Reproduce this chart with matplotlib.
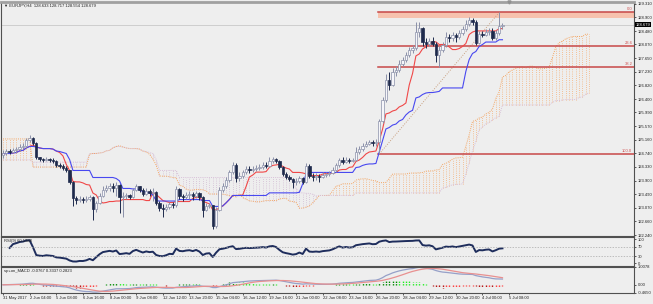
import numpy as np
import pandas as pd
import matplotlib
matplotlib.use('Agg')
import matplotlib.pyplot as plt
from matplotlib.transforms import blended_transform_factory

plt.rcParams['font.family'] = ['Liberation Sans', 'DejaVu Sans']

# ---- data (EURJPY H4) ----
title_text = "EURJPY,H4  128.633 128.717 128.554 128.679"
rsi_text = "RSI(9) 60.1988"
macd_text = "sp+on_MACD -0.0767 0.3337 0.2823"

first_open = 124.69
close = [124.75, 124.81, 124.78, 124.84, 124.87, 124.93, 124.96, 125.15, 125.21, 125.06,
         124.63, 124.57, 124.54, 124.57, 124.54, 124.51, 124.38, 124.35, 124.29, 124.23,
         123.86, 123.37, 123.31, 123.34, 123.31, 123.34, 123.40, 123.04, 123.22, 123.43,
         123.62, 123.68, 123.74, 123.68, 123.77, 123.40, 123.43, 123.47, 123.40, 123.62,
         123.74, 123.62, 123.50, 123.59, 123.53, 123.56, 123.22, 123.07, 123.04, 123.10,
         123.19, 123.16, 123.65, 123.43, 123.40, 123.47, 123.50, 123.43, 123.53, 123.40,
         123.01, 123.13, 123.16, 122.52, 123.01, 123.62, 123.74, 123.92, 124.17, 124.38,
         123.99, 124.05, 124.17, 124.26, 124.23, 124.26, 124.29, 124.32, 124.38, 124.35,
         124.51, 124.57, 124.51, 124.32, 124.11, 124.02, 123.95, 123.86, 123.89, 123.99,
         123.86, 124.35, 124.05, 124.02, 124.05, 124.02, 124.08, 124.11, 124.14, 124.23,
         124.38, 124.54, 124.47, 124.54, 124.51, 124.54, 124.78, 124.87, 124.96, 125.03,
         125.09, 125.06, 125.09, 125.73, 126.37, 126.98, 126.83, 127.23, 127.29, 127.47,
         127.60, 127.75, 127.90, 127.96, 128.45, 128.58, 128.15, 128.09, 128.18, 128.09,
         127.75, 127.90, 128.06, 128.30, 128.27, 128.36, 128.30, 128.42, 128.54, 128.70,
         128.82, 128.76, 128.12, 128.39, 128.36, 128.45, 128.48, 128.27, 128.42, 128.633,
         128.679]
high = [124.84, 124.87, 124.87, 124.90, 124.93, 125.03, 125.06, 125.21, 125.30, 125.24,
        125.09, 124.63, 124.60, 124.63, 124.60, 124.60, 124.54, 124.44, 124.41, 124.35,
        124.23, 123.88, 123.43, 123.43, 123.40, 123.43, 123.47, 123.43, 123.28, 123.53,
        123.74, 123.77, 123.83, 123.83, 123.86, 123.80, 123.56, 123.53, 123.50, 123.68,
        123.80, 123.74, 123.68, 123.68, 123.65, 123.68, 123.59, 123.28, 123.19, 123.19,
        123.25, 123.25, 123.74, 123.68, 123.50, 123.56, 123.59, 123.56, 123.59, 123.56,
        123.43, 123.22, 123.22, 123.16, 123.10, 123.71, 123.83, 124.02, 124.23, 124.47,
        124.44, 124.17, 124.23, 124.35, 124.35, 124.35, 124.38, 124.41, 124.47, 124.47,
        124.63, 124.63, 124.60, 124.54, 124.35, 124.17, 124.08, 123.99, 123.99, 124.05,
        124.02, 124.44, 124.41, 124.14, 124.14, 124.11, 124.17, 124.17, 124.20, 124.32,
        124.44, 124.60, 124.63, 124.63, 124.60, 124.60, 124.93, 124.96, 125.06, 125.12,
        125.15, 125.15, 125.18, 125.79, 126.46, 127.17, 127.23, 127.35, 127.41, 127.60,
        127.69, 127.84, 127.99, 128.06, 128.76, 128.76, 128.61, 128.27, 128.27, 128.30,
        128.15, 128.02, 128.15, 128.45, 128.39, 128.45, 128.42, 128.51, 128.64, 128.82,
        128.91, 128.88, 128.82, 128.48, 128.48, 128.54, 128.58, 128.58, 128.51, 129.05,
        128.717]
low = [124.60, 124.69, 124.72, 124.75, 124.75, 124.81, 124.87, 124.90, 125.09, 124.99,
       124.57, 124.51, 124.47, 124.51, 124.47, 124.44, 124.32, 124.29, 124.23, 124.17,
       123.80, 123.13, 123.19, 123.25, 123.22, 123.25, 123.28, 122.70, 122.95, 123.19,
       123.40, 123.56, 123.59, 123.56, 123.43, 122.91, 122.79, 123.34, 123.34, 123.37,
       123.59, 123.56, 123.43, 123.47, 123.43, 123.28, 123.16, 122.98, 122.79, 122.98,
       123.04, 123.07, 123.10, 123.34, 123.28, 123.34, 123.34, 123.31, 123.37, 123.31,
       122.79, 122.98, 123.07, 122.43, 122.46, 122.98, 123.56, 123.68, 123.86, 124.11,
       123.86, 123.89, 123.99, 124.11, 124.14, 124.17, 124.20, 124.23, 124.26, 124.29,
       124.32, 124.44, 124.44, 124.26, 124.05, 123.95, 123.89, 123.68, 123.77, 123.83,
       123.80, 123.83, 123.99, 123.89, 123.92, 123.86, 123.99, 124.02, 124.05, 124.11,
       124.17, 124.32, 124.41, 124.44, 124.44, 124.47, 124.51, 124.72, 124.81, 124.93,
       124.99, 124.96, 124.96, 124.72, 125.67, 126.31, 126.68, 126.80, 127.11, 127.23,
       127.41, 127.54, 127.69, 127.81, 127.90, 128.30, 128.02, 127.96, 128.02, 128.02,
       127.54, 127.38, 127.84, 127.99, 128.15, 128.18, 128.15, 128.24, 128.36, 128.48,
       128.64, 128.67, 128.06, 128.09, 128.30, 128.33, 128.36, 128.21, 128.21, 128.36,
       128.554]

# cloud values for the first 26 bars (projected from before the window)
span_a_head = [125.18] * 9 + [124.32] * 17
span_b_head = [124.54] * 9 + [124.47] * 17

# fibonacci retracement
fib_levels = [0.0, 23.6, 38.2, 100.0]
fib_low_bar, fib_high_bar = 113, 149
zone_bottom = 128.87

price_ticks = [129.310, 128.900, 128.480, 128.070, 127.650, 127.230, 126.820, 126.400,
               125.990, 125.570, 125.160, 124.740, 124.330, 123.900, 123.490, 123.070,
               122.660, 122.240]
time_labels = ["31 May 2017", "2 Jun 04:00", "5 Jun 08:00", "6 Jun 16:00", "8 Jun 00:00",
               "9 Jun 08:00", "12 Jun 12:00", "13 Jun 20:00", "15 Jun 04:00", "16 Jun 12:00",
               "19 Jun 16:00", "21 Jun 00:00", "22 Jun 08:00", "23 Jun 16:00", "26 Jun 20:00",
               "28 Jun 04:00", "29 Jun 12:00", "30 Jun 20:00", "4 Jul 00:00", "5 Jul 08:00"]
time_label_step = 8

# ---- indicators ----
c = pd.Series(close)
h = pd.Series(high)
l = pd.Series(low)
opn = [first_open] + close[:-1]
n = len(close)

tenkan = (h.rolling(9, min_periods=1).max() + l.rolling(9, min_periods=1).min()) / 2
kijun = (h.rolling(26, min_periods=1).max() + l.rolling(26, min_periods=1).min()) / 2
span_a = np.concatenate([span_a_head, ((tenkan + kijun) / 2).values])
span_b = np.concatenate([span_b_head,
                         ((h.rolling(52, min_periods=1).max() + l.rolling(52, min_periods=1).min()) / 2).values])
span_x = np.arange(len(span_a))

delta = c.diff()
gain = delta.clip(lower=0).ewm(alpha=1 / 9).mean()
loss = (-delta.clip(upper=0)).ewm(alpha=1 / 9).mean()
rsi = (100 - 100 / (1 + gain / loss)).where(loss > 0)

macd = c.ewm(span=12, adjust=False).mean() - c.ewm(span=26, adjust=False).mean()
signal = macd.rolling(9, min_periods=1).mean()
osma = macd - signal

# ---- style ----
BG = '#EEEEEE'
FS = 3.0
TXT = '#202020'
W, H = 653, 304
fig = plt.figure(figsize=(W / 100, H / 100), dpi=100, facecolor=BG)


def px_axes(x0, y0, x1, y1, **kw):
    return fig.add_axes([x0 / W, 1 - y1 / H, (x1 - x0) / W, (y1 - y0) / H], **kw)


ax = px_axes(1, 2, 634, 236)
ax_rsi = px_axes(1, 237, 634, 266, sharex=ax)
ax_macd = px_axes(1, 267, 634, 293, sharex=ax)

for a in (ax, ax_rsi, ax_macd):
    a.set_facecolor(BG)
    for s in a.spines.values():
        s.set_color('#505050')
        s.set_linewidth(0.8)
    a.yaxis.tick_right()
    a.tick_params(axis='y', labelsize=FS, length=1.5, width=0.5, pad=1.0, colors=TXT)
    a.tick_params(axis='x', labelbottom=False, length=0)
ax.spines['top'].set_color('#A0A0A0')
ax.spines['top'].set_linewidth(2)

ax.set_xlim(-0.6, 189.5)
ax.set_ylim(122.21, 129.37)

# cloud hatch
up = span_a >= span_b
ax.vlines(span_x[up], span_b[up], span_a[up], colors='#F4B27A', linewidth=0.6,
          linestyles=(0, (1, 1.6)), zorder=1)
ax.vlines(span_x[~up], span_a[~up], span_b[~up], colors='#D2BCD2', linewidth=0.6,
          linestyles=(0, (1, 1.6)), zorder=1)
ax.plot(span_x, span_a, color='#F4A460', lw=0.7, ls=(0, (1, 1.2)), zorder=2)
ax.plot(span_x, span_b, color='#D8BFD8', lw=0.7, ls=(0, (1, 1.2)), zorder=2)

# fibonacci
fib_hi = high[fib_high_bar]
fib_lo = low[fib_low_bar]
x0 = fib_low_bar - 0.5
ax.add_patch(plt.Rectangle((x0, zone_bottom), 200, fib_hi - zone_bottom,
                           facecolor='#F7C2AE', edgecolor='none', zorder=2))
ax.plot([fib_low_bar, fib_high_bar], [fib_lo, fib_hi], color='#C8A080', lw=0.7,
        ls=(0, (1, 1.5)), zorder=3)
for lv in fib_levels:
    p = fib_hi - (fib_hi - fib_lo) * lv / 100
    ax.plot([x0, 200], [p, p], color='#C84848', lw=1.1, zorder=3)
    ax.text(189.0, p + 0.03, f"{lv:.1f}", color='#D05050', fontsize=FS,
            ha='right', va='bottom', zorder=5)

# current price line
ax.axhline(close[-1], color='#C8C8C8', lw=0.6, zorder=1)

# ichimoku lines
ax.plot(np.arange(n), tenkan, color='#F04848', lw=0.8, zorder=4)
ax.plot(np.arange(n), kijun, color='#4848F0', lw=0.8, zorder=4)

# candles
xs = np.arange(n)
bull = np.array(close) >= np.array(opn)
ax.vlines(xs[bull], np.array(low)[bull], np.array(high)[bull], color='#8A90A8', lw=0.7, zorder=5)
ax.vlines(xs[~bull], np.array(low)[~bull], np.array(high)[~bull], color='#1E2A4C', lw=0.7, zorder=5)
body_lo = np.minimum(close, opn)
body_h = np.maximum(np.abs(np.array(close) - np.array(opn)), 0.004)
ax.bar(xs[bull], body_h[bull], bottom=body_lo[bull], width=0.7, color='#F6F6FA',
       edgecolor='#8A90A8', linewidth=0.5, zorder=6)
ax.bar(xs[~bull], body_h[~bull], bottom=body_lo[~bull], width=0.7, color='#1E2A4C',
       edgecolor='#1E2A4C', linewidth=0.5, zorder=6)

ax.set_yticks(price_ticks)
ax.set_yticklabels([f"{v:.3f}" for v in price_ticks])
tr = blended_transform_factory(ax.transAxes, ax.transData)
ax.text(1.003, close[-1], f"{close[-1]:.3f}", transform=tr, fontsize=FS, color='white',
        va='center', ha='left', bbox=dict(facecolor='black', edgecolor='none', pad=0.5),
        zorder=10, clip_on=False)
ax.plot([n + 1], [129.37], marker='v', color='#909090', markersize=2.2, clip_on=False, zorder=10)
ax.text(0.004, 0.993, "\u25BC " + title_text, transform=ax.transAxes, fontsize=FS,
        color=TXT, va='top', ha='left')

# RSI
ax_rsi.set_ylim(-12, 110)
ax_rsi.plot(xs, rsi, color='#1E2D5C', lw=1.4)
for lv in (70, 30):
    ax_rsi.axhline(lv, color='#A8A8A8', lw=0.5, ls=(0, (2, 2)))
ax_rsi.set_yticks([100, 70, 30, 0])
ax_rsi.set_yticklabels(['100', '70', '30', '0'])
ax_rsi.text(0.004, 0.93, rsi_text, transform=ax_rsi.transAxes, fontsize=FS,
            color=TXT, va='top', ha='left')

# MACD
ax_macd.set_ylim(-0.465, 1.0078)
osma_v = osma.values
prev = np.concatenate([[0.0], osma_v[:-1]])
cols = []
for v, pv in zip(osma_v, prev):
    if v >= 0:
        cols.append('#008C00' if v >= pv else '#22EE22')
    else:
        cols.append('#B00000' if v <= pv else '#FF3030')
ax_macd.vlines(xs, 0, osma_v, colors=cols, lw=1.0, linestyles=(0, (1, 0.8)))
ax_macd.plot(xs, macd, color='#96A0C8', lw=0.9)
ax_macd.plot(xs, signal, color='#E89090', lw=0.9)
ax_macd.set_yticks([1.0078, 0.0, -0.465])
ax_macd.set_yticklabels(['1.0078', '0.00', '-0.4650'])
ax_macd.text(0.004, 0.93, macd_text, transform=ax_macd.transAxes, fontsize=FS,
             color=TXT, va='top', ha='left')

ax_macd.set_xticks(np.arange(len(time_labels)) * time_label_step)
ax_macd.set_xticklabels(time_labels)
ax_macd.tick_params(axis='x', labelbottom=True, labelsize=FS, length=1.5, width=0.5,
                    pad=1.0, colors=TXT)
for t in ax_macd.get_xticklabels():
    t.set_ha('left')

fig.savefig('out.png', dpi=100, facecolor=BG)
